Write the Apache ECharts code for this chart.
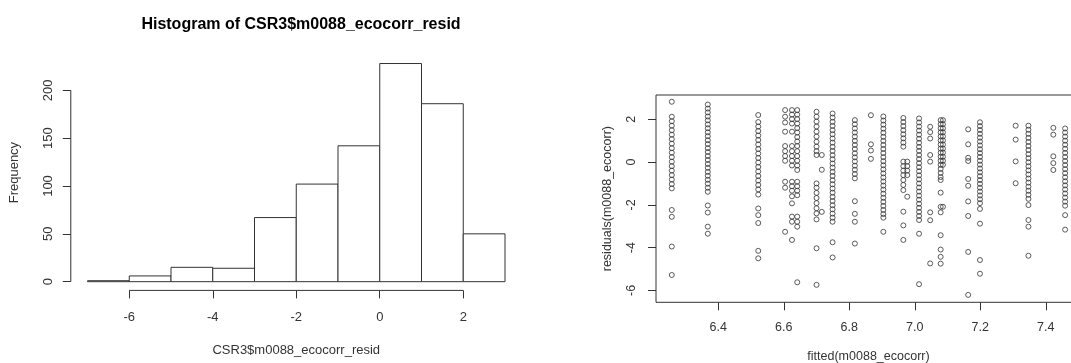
<!DOCTYPE html>
<html>
<head>
<meta charset="utf-8">
<script src="https://cdn.jsdelivr.net/npm/echarts@6/dist/echarts.min.js"></script>
<style>
  html, body { margin: 0; padding: 0; background: #fff; }
  #chart { width: 1071px; height: 363px; }
</style>
</head>
<body>
<div id="chart"></div>
<script>
// histogram (left panel)
var binEdges = [-7, -6, -5, -4, -3, -2, -1, 0, 1, 2, 3];
var histCounts = [1, 6, 15, 14, 67, 102, 142, 228, 186, 50];
var histXTicks = [-6, -4, -2, 0, 2];
var histYTicks = [0, 50, 100, 150, 200];

// residuals vs fitted (right panel): one fitted value per column, residuals read per column
var fittedCols = [6.258, 6.368, 6.522, 6.604, 6.625, 6.641, 6.700, 6.716, 6.749, 6.817,
  6.866, 6.904, 6.965, 6.977, 7.013, 7.047, 7.079, 7.086, 7.163, 7.199, 7.308, 7.347, 7.423, 7.459];
var residCols = [
  [2.82, 2.12, 1.91, 1.70, 1.49, 1.28, 1.07, 0.86, 0.65, 0.44, 0.23, 0.02, -0.19, -0.40, -0.61, -0.82, -1.03, -1.23, -2.24, -2.56, -3.95, -5.28],
  [2.69, 2.50, 2.32, 2.13, 1.95, 1.76, 1.58, 1.39, 1.21, 1.02, 0.84, 0.65, 0.47, 0.28, 0.10, -0.09, -0.27, -0.46, -0.64, -0.83, -1.01, -1.20, -1.39, -2.03, -2.36, -3.02, -3.35],
  [2.20, 1.87, 1.66, 1.45, 1.24, 1.03, 0.82, 0.61, 0.40, 0.19, -0.02, -0.23, -0.44, -0.65, -0.86, -1.07, -1.28, -1.52, -2.17, -2.48, -2.85, -4.15, -4.50],
  [2.43, 2.12, 1.85, 1.42, 0.75, 0.51, 0.28, 0.06, -0.92, -1.20, -3.26],
  [2.43, 2.22, 2.01, 1.80, 1.42, 0.75, 0.51, 0.28, 0.06, -0.16, -0.92, -1.13, -1.34, -1.60, -1.93, -2.55, -2.79, -3.64],
  [2.43, 2.22, 2.01, 1.80, 1.59, 1.38, 1.17, 0.96, 0.75, 0.51, 0.28, 0.06, -0.16, -0.37, -0.92, -1.13, -1.34, -1.55, -2.55, -2.79, -3.02, -5.62],
  [2.35, 2.12, 1.89, 1.66, 1.42, 1.19, 0.95, 0.72, 0.51, 0.33, -1.00, -1.20, -1.44, -1.68, -1.92, -2.16, -2.40, -2.68, -4.03, -5.74],
  [0.33, -0.36, -2.33],
  [2.27, 2.08, 1.88, 1.69, 1.49, 1.30, 1.10, 0.91, 0.71, 0.52, 0.32, 0.13, -0.07, -0.26, -0.46, -0.65, -0.85, -1.04, -1.24, -1.43, -1.63, -1.82, -2.02, -2.21, -2.41, -2.60, -2.79, -3.75, -4.46],
  [1.96, 1.77, 1.57, 1.38, 1.19, 0.99, 0.80, 0.61, 0.41, 0.22, 0.03, -0.17, -0.36, -0.56, -0.76, -1.83, -2.42, -2.79, -3.81],
  [2.19, 0.83, 0.54, 0.15],
  [2.13, 1.94, 1.75, 1.56, 1.37, 1.18, 0.99, 0.80, 0.61, 0.42, 0.23, 0.04, -0.15, -0.34, -0.53, -0.72, -0.91, -1.10, -1.29, -1.48, -1.67, -1.86, -2.05, -2.24, -2.43, -2.60, -3.26],
  [2.06, 1.87, 1.68, 1.49, 1.30, 1.11, 0.91, 0.72, 0.02, -0.19, -0.40, -0.61, -0.84, -1.07, -1.31, -2.32, -2.96, -3.64],
  [0.02, -0.19, -0.40, -0.61, -1.62],
  [2.04, 1.85, 1.66, 1.47, 1.28, 1.09, 0.90, 0.71, 0.52, 0.33, 0.14, -0.05, -0.24, -0.43, -0.62, -0.81, -1.00, -1.19, -1.38, -1.57, -1.76, -1.95, -2.14, -2.33, -2.52, -2.71, -3.35, -5.71],
  [1.65, 1.40, 1.10, 0.33, 0.02, -2.35, -2.72, -4.74],
  [1.96, 1.77, 1.58, 1.39, 1.20, 1.01, 0.82, 0.63, 0.44, 0.25, 0.06, -0.13, -0.32, -0.51, -0.70, -0.84, -1.43, -2.09, -2.35, -3.42, -4.09, -4.43, -4.75],
  [1.96, 1.77, 1.58, 1.39, 1.20, 1.01, 0.82, 0.63, 0.44, 0.25, 0.06, -0.13, -2.09],
  [1.53, 0.83, 0.20, 0.05, -0.79, -1.11, -1.84, -2.52, -4.20, -6.21],
  [1.86, 1.68, 1.50, 1.32, 1.14, 0.96, 0.78, 0.60, 0.42, 0.24, 0.06, -0.12, -0.30, -0.48, -0.66, -0.84, -1.02, -1.20, -1.38, -1.56, -1.74, -1.92, -2.19, -2.88, -4.58, -5.22],
  [1.70, 1.05, 0.03, -0.99],
  [1.70, 1.51, 1.32, 1.13, 0.94, 0.75, 0.56, 0.37, 0.18, -0.01, -0.20, -0.39, -0.58, -0.77, -0.96, -1.15, -1.34, -1.53, -1.72, -2.01, -2.71, -3.02, -4.38],
  [1.60, 1.28, 0.27, -0.05, -0.37],
  [1.57, 1.38, 1.19, 1.00, 0.81, 0.62, 0.43, 0.24, 0.05, -0.14, -0.33, -0.52, -0.71, -0.90, -1.09, -1.28, -1.47, -1.66, -1.85, -2.04, -2.48, -3.16]
];
var scatXTicks = [6.4, 6.6, 6.8, 7.0, 7.2, 7.4];
var scatYTicks = [-6, -4, -2, 0, 2];

var FONT = "'Liberation Sans', Arial, sans-serif";
var INK = "#333";

var histData = histCounts.map(function (c, i) {
  return [binEdges[i], binEdges[i + 1], c];
});
var scatData = [];
fittedCols.forEach(function (fx, i) {
  residCols[i].forEach(function (r) {
    scatData.push([fx, r]);
  });
});

// R-style range: data range padded 4% on each side
var hxMin = binEdges[0] - 0.04 * (binEdges[binEdges.length - 1] - binEdges[0]);
var hxMax = binEdges[binEdges.length - 1] + 0.04 * (binEdges[binEdges.length - 1] - binEdges[0]);
var hyMax = Math.max.apply(null, histCounts);
var hyMinPad = -0.04 * hyMax;
var hyMaxPad = hyMax * 1.04;

var myChart = echarts.init(document.getElementById("chart"), null, { renderer: "canvas" });

var option = {
  animation: false,
  backgroundColor: "#fff",
  textStyle: { fontFamily: FONT },
  title: {
    text: "Histogram of CSR3$m0088_ecocorr_resid",
    left: 296,
    top: 12,
    textAlign: "center",
    textStyle: { fontFamily: FONT, fontSize: 16, fontWeight: "bold", color: "#000" },
  },
  grid: [
    { left: 70.8, top: 54.8, width: 450.9, height: 235.6, outerBoundsMode: "none" },
    {
      left: 656, top: 95, width: 425, height: 207.3, outerBoundsMode: "none",
      show: true, borderColor: INK, borderWidth: 1, backgroundColor: "transparent",
    },
  ],
  xAxis: [
    {
      gridIndex: 0, type: "value", min: hxMin, max: hxMax,
      axisLine: { show: false, onZero: false }, splitLine: { show: false },
      axisTick: { show: true, length: 8, customValues: histXTicks, lineStyle: { color: INK } },
      axisLabel: { customValues: histXTicks, margin: 21, fontSize: 13, color: INK, fontFamily: FONT },
      name: "CSR3$m0088_ecocorr_resid", nameLocation: "middle", nameGap: 54,
      nameTextStyle: { fontSize: 13, color: INK, fontFamily: FONT },
    },
    {
      gridIndex: 1, type: "value", min: 6.2098, max: 7.5075,
      axisLine: { show: false, onZero: false }, splitLine: { show: false },
      axisTick: { show: true, length: 8, customValues: scatXTicks, lineStyle: { color: INK } },
      axisLabel: {
        customValues: scatXTicks, margin: 19, fontSize: 12.5, color: INK, fontFamily: FONT,
        formatter: function (v) { return v.toFixed(1); },
      },
      name: "fitted(m0088_ecocorr)", nameLocation: "middle", nameGap: 48,
      nameTextStyle: { fontSize: 12.5, color: INK, fontFamily: FONT },
    },
  ],
  yAxis: [
    {
      gridIndex: 0, type: "value", min: hyMinPad, max: hyMaxPad,
      axisLine: { show: false, onZero: false }, splitLine: { show: false },
      axisTick: { show: true, length: 8, customValues: histYTicks, lineStyle: { color: INK } },
      axisLabel: { customValues: histYTicks, rotate: 90, margin: 16, fontSize: 13, color: INK, fontFamily: FONT },
      name: "Frequency", nameLocation: "middle", nameGap: 50, nameRotate: 90,
      nameTextStyle: { fontSize: 13, color: INK, fontFamily: FONT },
    },
    {
      gridIndex: 1, type: "value", min: -6.556, max: 3.135,
      axisLine: { show: false, onZero: false }, splitLine: { show: false },
      axisTick: { show: true, length: 8, customValues: scatYTicks, lineStyle: { color: INK } },
      axisLabel: { customValues: scatYTicks, rotate: 90, margin: 18, fontSize: 12.5, color: INK, fontFamily: FONT },
      name: "residuals(m0088_ecocorr)", nameLocation: "middle", nameGap: 42, nameRotate: 90,
      nameTextStyle: { fontSize: 12.5, color: INK, fontFamily: FONT },
    },
  ],
  series: [
    {
      type: "custom",
      xAxisIndex: 0, yAxisIndex: 0,
      silent: true,
      data: histData,
      encode: { x: [0, 1], y: 2 },
      renderItem: function (params, api) {
        var p0 = api.coord([api.value(0), 0]);
        var p1 = api.coord([api.value(1), api.value(2)]);
        return {
          type: "rect",
          shape: { x: p0[0], y: p1[1], width: p1[0] - p0[0], height: p0[1] - p1[1] },
          style: { fill: "#fff", stroke: INK, lineWidth: 1 },
        };
      },
    },
    // R draws its axis lines only from the first tick to the last
    {
      type: "line", xAxisIndex: 0, yAxisIndex: 0, silent: true, clip: false,
      symbol: "none", lineStyle: { color: INK, width: 1 },
      data: [[histXTicks[0], hyMinPad], [histXTicks[histXTicks.length - 1], hyMinPad]],
    },
    {
      type: "line", xAxisIndex: 0, yAxisIndex: 0, silent: true, clip: false,
      symbol: "none", lineStyle: { color: INK, width: 1 },
      data: [[hxMin, histYTicks[0]], [hxMin, histYTicks[histYTicks.length - 1]]],
    },
    {
      type: "scatter",
      xAxisIndex: 1, yAxisIndex: 1,
      silent: true,
      symbol: "circle",
      symbolSize: 5,
      itemStyle: { color: "transparent", borderColor: "#333", borderWidth: 1 },
      data: scatData,
    },
  ],
};

myChart.setOption(option);
</script>
</body>
</html>
